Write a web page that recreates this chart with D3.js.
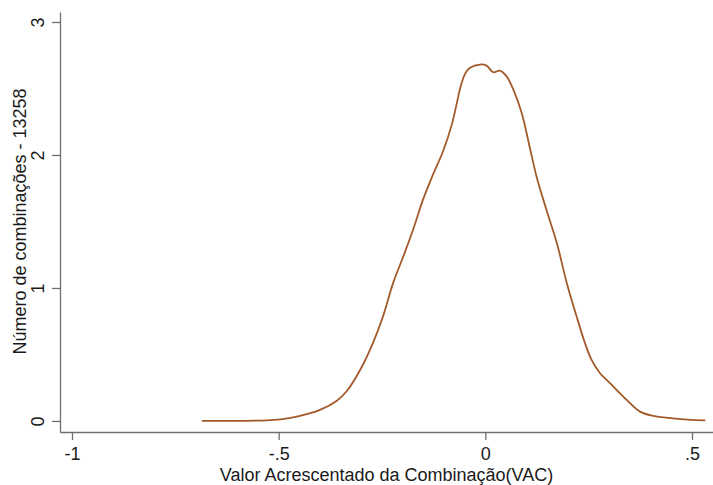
<!DOCTYPE html>
<html>
<head>
<meta charset="utf-8">
<script src="https://cdn.jsdelivr.net/npm/d3@7"></script>
<style>
  body { margin: 0; background: #fff; }
  text { font-family: "Liberation Sans", Arial, sans-serif; fill: #1a1a1a; }
</style>
</head>
<body>
<div class="chart"></div>
<script>
// density estimate
const vac = [-0.686, -0.6, -0.529, -0.49, -0.456, -0.4, -0.36, -0.335, -0.303, -0.272, -0.248, -0.223,
  -0.199, -0.175, -0.151, -0.127, -0.102, -0.081, -0.069, -0.061, -0.049, -0.037, -0.013, 0.003,
  0.019, 0.035, 0.052, 0.068, 0.088, 0.108, 0.124, 0.148, 0.173, 0.197, 0.221, 0.241, 0.257,
  0.277, 0.301, 0.342, 0.374, 0.406, 0.454, 0.49, 0.532];
const density = [0.0, 0.001, 0.004, 0.014, 0.032, 0.083, 0.150, 0.225, 0.383, 0.586, 0.782, 1.038,
  1.233, 1.436, 1.662, 1.850, 2.030, 2.230, 2.390, 2.500, 2.610, 2.655, 2.680, 2.672,
  2.622, 2.634, 2.589, 2.489, 2.316, 2.050, 1.837, 1.586, 1.338, 1.038, 0.784, 0.586, 0.459,
  0.361, 0.286, 0.158, 0.070, 0.038, 0.020, 0.010, 0.004];

const xTicks = [-1, -0.5, 0, 0.5];
const xTickLabels = ["-1", "-.5", "0", ".5"];
const yTicks = [0, 1, 2, 3];

const width = 713;
const height = 485;
const fontSize = "18px";

const svg = d3.select(".chart").append("svg")
  .attr("width", width)
  .attr("height", height);

// axes extend a bit beyond the tick range, like Stata
const x = d3.scaleLinear().domain([-1.029, 0.5508]).range([60, 713]);
const y = d3.scaleLinear().domain([-0.083, 3.075]).range([432, 12]);

const axisColor = "#6f6f6f";

// x axis
const xAxis = svg.append("g")
  .attr("transform", `translate(0,${y.range()[0]})`)
  .call(d3.axisBottom(x).tickValues(xTicks).tickSize(8).tickSizeOuter(0)
    .tickFormat((d, i) => xTickLabels[i]));
xAxis.select(".domain").attr("stroke", axisColor).attr("stroke-width", 1.3);
xAxis.selectAll(".tick line").attr("stroke", axisColor).attr("stroke-width", 1.3);
xAxis.selectAll(".tick text")
  .attr("y", 28)
  .attr("dy", null)
  .style("font-size", fontSize)
  .attr("fill", "#1a1a1a");

// y axis
const yAxis = svg.append("g")
  .attr("transform", `translate(${x.range()[0]},0)`)
  .call(d3.axisLeft(y).tickValues(yTicks).tickSize(8).tickSizeOuter(0).tickFormat(d3.format("d")));
yAxis.select(".domain").attr("stroke", axisColor).attr("stroke-width", 1.3);
yAxis.selectAll(".tick text")
  .attr("x", null).attr("dy", null)
  .attr("transform", "translate(-16,0) rotate(-90)")
  .attr("text-anchor", "middle")
  .style("font-size", fontSize)
  .attr("fill", "#1a1a1a");
yAxis.selectAll(".tick line").attr("stroke", axisColor).attr("stroke-width", 1.3);

// density line
const line = d3.line()
  .x((d, i) => x(vac[i]))
  .y(d => y(d))
  .curve(d3.curveCatmullRom.alpha(0.5));

svg.append("path")
  .datum(density)
  .attr("fill", "none")
  .attr("stroke", "#a35a2b")
  .attr("stroke-width", 1.8)
  .attr("d", line);

// titles
svg.append("text")
  .attr("x", (x.range()[0] + x.range()[1]) / 2)
  .attr("y", 481)
  .attr("text-anchor", "middle")
  .style("font-size", fontSize)
  .text("Valor Acrescentado da Combinação(VAC)");

svg.append("text")
  .attr("transform", `translate(26,${(y(0) + y(3)) / 2}) rotate(-90)`)
  .attr("text-anchor", "middle")
  .style("font-size", fontSize)
  .text("Número de combinações - 13258");
</script>
</body>
</html>
